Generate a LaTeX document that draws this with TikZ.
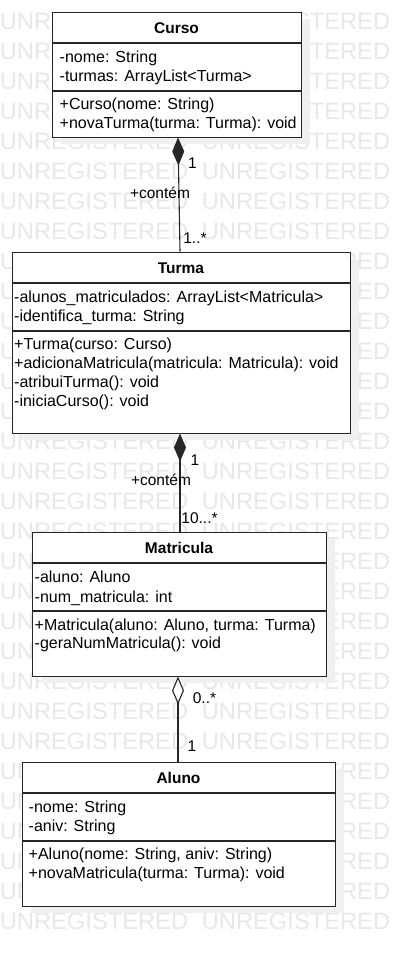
\documentclass[tikz,border=0pt]{standalone}
\usepackage{fontspec}
\setmainfont{Liberation Sans}
\usetikzlibrary{arrows.meta}
\begin{document}
\begin{tikzpicture}[x=1pt,y=-1pt,
  wm/.style={text=black!9, font=\fontsize{23.7}{24}\selectfont, inner sep=0},
  shadowbox/.style={fill=black!6, draw=none},
  umlbox/.style={draw=black!85, line width=1.1pt, fill=white, inner sep=0, anchor=north west},
  sep/.style={draw=black!85, line width=1.1pt},
  ttl/.style={font=\fontsize{15.5}{18}\selectfont\bfseries, inner sep=0, text height=11pt, text depth=0pt},
  mem/.style={font=\fontsize{16}{18}\selectfont, inner sep=0, anchor=west, text height=11pt, text depth=0pt},
  lbl/.style={font=\fontsize{15.5}{18}\selectfont, inner sep=0, text height=11pt, text depth=0pt},
  conn/.style={draw=black!85, line width=1.1pt},
  fulldia/.style={{Diamond[length=28pt,width=12pt]}-},
  opendia/.style={{Diamond[open,length=28pt,width=12pt,fill=white]}-},
]
\useasboundingbox (0,0) rectangle (400,956);
\fill[white] (0,0) rectangle (400,956);

% watermark
\foreach \k in {0,...,30}{
  \node[wm] (wa\k) at (94,21.5+30*\k) {UNREGISTERED};
  \node[wm] (wb\k) at (296,21.5+30*\k) {UNREGISTERED};
}

% shadows
\fill[shadowbox] (61,19) rectangle (310,144);
\fill[shadowbox] (21,259) rectangle (359,440);
\fill[shadowbox] (41,539) rectangle (335,683);
\fill[shadowbox] (31,769) rectangle (344,913);

% Curso
\node[umlbox, minimum width=249pt, minimum height=125pt] (curso) at (52,12) {};
\draw[sep] (52,43) -- (301,43);
\draw[sep] (52,91) -- (301,91);
\node[ttl] (cursoT) at (176.5,27.5) {Curso};
\node[mem] (cursoA1) at (59.5,57) {-nome: String};
\node[mem] (cursoA2) at (59.5,76) {-turmas: ArrayList<Turma>};
\node[mem] (cursoM1) at (59.5,104) {+Curso(nome: String)};
\node[mem] (cursoM2) at (59.5,123) {+novaTurma(turma: Turma): void};

% Turma
\node[umlbox, minimum width=338pt, minimum height=181pt] (turma) at (12,252) {};
\draw[sep] (12,283) -- (350,283);
\draw[sep] (12,331) -- (350,331);
\node[ttl] (turmaT) at (181,267.5) {Turma};
\node[mem] (turmaA1) at (14,297) {-alunos\_matriculados: ArrayList<Matricula>};
\node[mem] (turmaA2) at (14,316) {-identifica\_turma: String};
\node[mem] (turmaM1) at (14,344) {+Turma(curso: Curso)};
\node[mem] (turmaM2) at (14,363) {+adicionaMatricula(matricula: Matricula): void};
\node[mem] (turmaM3) at (14,382) {-atribuiTurma(): void};
\node[mem] (turmaM4) at (14,401) {-iniciaCurso(): void};

% Matricula
\node[umlbox, minimum width=294pt, minimum height=144pt] (matr) at (32,532) {};
\draw[sep] (32,563) -- (326,563);
\draw[sep] (32,611) -- (326,611);
\node[ttl] (matrT) at (179,547.5) {Matricula};
\node[mem] (matrA1) at (34.5,577) {-aluno: Aluno};
\node[mem] (matrA2) at (34.5,597) {-num\_matricula: int};
\node[mem] (matrM1) at (34.5,625) {+Matricula(aluno: Aluno, turma: Turma)};
\node[mem] (matrM2) at (34.5,643) {-geraNumMatricula(): void};

% Aluno
\node[umlbox, minimum width=313pt, minimum height=144pt] (aluno) at (22,762) {};
\draw[sep] (22,793) -- (335,793);
\draw[sep] (22,841) -- (335,841);
\node[ttl] (alunoT) at (178.5,777.5) {Aluno};
\node[mem] (alunoA1) at (28.5,807) {-nome: String};
\node[mem] (alunoA2) at (28.5,826) {-aniv: String};
\node[mem] (alunoM1) at (28.5,854) {+Aluno(nome: String, aniv: String)};
\node[mem] (alunoM2) at (28.5,873) {+novaMatricula(turma: Turma): void};

% connectors
\coordinate (c1s) at (178,137.5);
\coordinate (c1e) at (180,251.5);
\coordinate (c2s) at (180,433.5);
\coordinate (c2e) at (180,531.5);
\coordinate (c3s) at (178,676.5);
\coordinate (c3e) at (178,761.5);
\draw[conn, fulldia] (c1s) -- (c1e);
\draw[conn, fulldia] (c2s) -- (c2e);
\draw[conn, opendia] (c3s) -- (c3e);

% labels
\node[lbl] (l1a) at (192.5,163) {1};
\node[lbl] (l1b) at (160,193) {+contém};
\node[lbl] (l1c) at (195,238) {1..*};
\node[lbl] (l2a) at (195,460) {1};
\node[lbl] (l2b) at (161,480) {+contém};
\node[lbl] (l2c) at (199.5,518) {10...*};
\node[lbl] (l3a) at (204.5,698) {0..*};
\node[lbl] (l3b) at (192,746) {1};
\end{tikzpicture}
\end{document}
